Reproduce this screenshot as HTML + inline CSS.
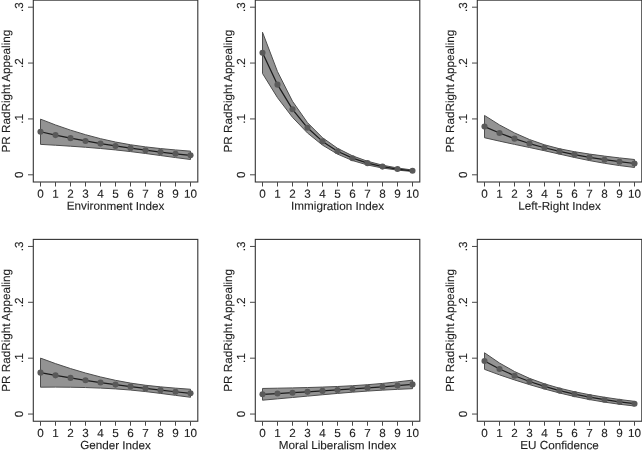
<!DOCTYPE html>
<html><head><meta charset="utf-8"><title>PR RadRight Appealing</title>
<style>
html,body{margin:0;padding:0;background:#fff;}
svg{display:block;}
.t{text-rendering:geometricPrecision;font-family:"Liberation Sans",Arial,sans-serif;font-size:11.7px;fill:#1e1e1e;stroke:#222;stroke-width:0.12px;}
.box{fill:none;stroke:#333;stroke-width:1.1;}
.tk{stroke:#484848;stroke-width:1.0;}
.band{fill:#939393;stroke:#4d4d4d;stroke-width:1.0;stroke-linejoin:miter;}
.ln{fill:none;stroke:#1c1c1c;stroke-width:1.25;stroke-linejoin:round;}
.mk{fill:#595959;}
</style></head>
<body>
<svg width="642" height="453" viewBox="0 0 642 453">
<rect width="642" height="453" fill="#fff"/>
<g>
<polygon class="band" points="40.5,119.14 55.5,124.95 70.5,130.13 85.5,134.7 100.5,138.68 115.5,142.04 130.5,144.76 145.5,146.89 160.5,148.57 175.5,149.95 190.5,151.16 190.5,159.5 175.5,157.57 160.5,155.53 145.5,153.49 130.5,151.58 115.5,149.91 100.5,148.49 85.5,147.26 70.5,146.19 55.5,145.23 40.5,144.36"/>
<polyline class="ln" points="40.5,131.75 55.5,135.09 70.5,138.16 85.5,140.98 100.5,143.58 115.5,145.97 130.5,148.17 145.5,150.19 160.5,152.05 175.5,153.76 190.5,155.33"/>
<circle class="mk" cx="40.5" cy="131.75" r="3.05"/>
<circle class="mk" cx="55.5" cy="135.09" r="3.05"/>
<circle class="mk" cx="70.5" cy="138.16" r="3.05"/>
<circle class="mk" cx="85.5" cy="140.98" r="3.05"/>
<circle class="mk" cx="100.5" cy="143.58" r="3.05"/>
<circle class="mk" cx="115.5" cy="145.97" r="3.05"/>
<circle class="mk" cx="130.5" cy="148.17" r="3.05"/>
<circle class="mk" cx="145.5" cy="150.19" r="3.05"/>
<circle class="mk" cx="160.5" cy="152.05" r="3.05"/>
<circle class="mk" cx="175.5" cy="153.76" r="3.05"/>
<circle class="mk" cx="190.5" cy="155.33" r="3.05"/>
<rect class="box" x="33.3" y="0.15" width="164.5" height="181.85"/>
<line class="tk" x1="28" y1="174.8" x2="33.3" y2="174.8"/>
<text class="t" transform="translate(23,174.8) rotate(-90)" text-anchor="middle">0</text>
<line class="tk" x1="28" y1="118.93" x2="33.3" y2="118.93"/>
<text class="t" transform="translate(23,118.93) rotate(-90)" text-anchor="middle">.1</text>
<line class="tk" x1="28" y1="63.06" x2="33.3" y2="63.06"/>
<text class="t" transform="translate(23,63.06) rotate(-90)" text-anchor="middle">.2</text>
<line class="tk" x1="28" y1="7.19" x2="33.3" y2="7.19"/>
<text class="t" transform="translate(23,7.19) rotate(-90)" text-anchor="middle">.3</text>
<line class="tk" x1="40.5" y1="182" x2="40.5" y2="186.5"/>
<text class="t" x="40.5" y="197.8" transform="rotate(0.05 40.5 197.8)" text-anchor="middle">0</text>
<line class="tk" x1="55.5" y1="182" x2="55.5" y2="186.5"/>
<text class="t" x="55.5" y="197.8" transform="rotate(0.05 55.5 197.8)" text-anchor="middle">1</text>
<line class="tk" x1="70.5" y1="182" x2="70.5" y2="186.5"/>
<text class="t" x="70.5" y="197.8" transform="rotate(0.05 70.5 197.8)" text-anchor="middle">2</text>
<line class="tk" x1="85.5" y1="182" x2="85.5" y2="186.5"/>
<text class="t" x="85.5" y="197.8" transform="rotate(0.05 85.5 197.8)" text-anchor="middle">3</text>
<line class="tk" x1="100.5" y1="182" x2="100.5" y2="186.5"/>
<text class="t" x="100.5" y="197.8" transform="rotate(0.05 100.5 197.8)" text-anchor="middle">4</text>
<line class="tk" x1="115.5" y1="182" x2="115.5" y2="186.5"/>
<text class="t" x="115.5" y="197.8" transform="rotate(0.05 115.5 197.8)" text-anchor="middle">5</text>
<line class="tk" x1="130.5" y1="182" x2="130.5" y2="186.5"/>
<text class="t" x="130.5" y="197.8" transform="rotate(0.05 130.5 197.8)" text-anchor="middle">6</text>
<line class="tk" x1="145.5" y1="182" x2="145.5" y2="186.5"/>
<text class="t" x="145.5" y="197.8" transform="rotate(0.05 145.5 197.8)" text-anchor="middle">7</text>
<line class="tk" x1="160.5" y1="182" x2="160.5" y2="186.5"/>
<text class="t" x="160.5" y="197.8" transform="rotate(0.05 160.5 197.8)" text-anchor="middle">8</text>
<line class="tk" x1="175.5" y1="182" x2="175.5" y2="186.5"/>
<text class="t" x="175.5" y="197.8" transform="rotate(0.05 175.5 197.8)" text-anchor="middle">9</text>
<line class="tk" x1="190.5" y1="182" x2="190.5" y2="186.5"/>
<text class="t" x="190.5" y="197.8" transform="rotate(0.05 190.5 197.8)" text-anchor="middle">10</text>
<text class="t" x="115.55" y="209.9" transform="rotate(0.05 115.55 209.9)" text-anchor="middle">Environment Index</text>
<text class="t" transform="translate(10,91.08) rotate(-90)" text-anchor="middle">PR RadRight Appealing</text>
</g>
<g>
<polygon class="band" points="262.5,32.23 277.5,71.63 292.5,101.28 307.5,122.66 322.5,137.71 337.5,148.3 352.5,155.85 367.5,161.27 382.5,165.18 397.5,168 412.5,170.02 412.5,171.51 397.5,170.11 382.5,168.03 367.5,164.98 352.5,160.52 337.5,154.1 322.5,145.1 307.5,132.99 292.5,117.34 277.5,97.68 262.5,73.48"/>
<polyline class="ln" points="262.5,52.85 277.5,84.66 292.5,109.31 307.5,127.82 322.5,141.4 337.5,151.2 352.5,158.18 367.5,163.13 382.5,166.61 397.5,169.05 412.5,170.77"/>
<circle class="mk" cx="262.5" cy="52.85" r="3.05"/>
<circle class="mk" cx="277.5" cy="84.66" r="3.05"/>
<circle class="mk" cx="292.5" cy="109.31" r="3.05"/>
<circle class="mk" cx="307.5" cy="127.82" r="3.05"/>
<circle class="mk" cx="322.5" cy="141.4" r="3.05"/>
<circle class="mk" cx="337.5" cy="151.2" r="3.05"/>
<circle class="mk" cx="352.5" cy="158.18" r="3.05"/>
<circle class="mk" cx="367.5" cy="163.13" r="3.05"/>
<circle class="mk" cx="382.5" cy="166.61" r="3.05"/>
<circle class="mk" cx="397.5" cy="169.05" r="3.05"/>
<circle class="mk" cx="412.5" cy="170.77" r="3.05"/>
<rect class="box" x="255.3" y="0.15" width="164.5" height="181.85"/>
<line class="tk" x1="250" y1="174.8" x2="255.3" y2="174.8"/>
<text class="t" transform="translate(245,174.8) rotate(-90)" text-anchor="middle">0</text>
<line class="tk" x1="250" y1="118.93" x2="255.3" y2="118.93"/>
<text class="t" transform="translate(245,118.93) rotate(-90)" text-anchor="middle">.1</text>
<line class="tk" x1="250" y1="63.06" x2="255.3" y2="63.06"/>
<text class="t" transform="translate(245,63.06) rotate(-90)" text-anchor="middle">.2</text>
<line class="tk" x1="250" y1="7.19" x2="255.3" y2="7.19"/>
<text class="t" transform="translate(245,7.19) rotate(-90)" text-anchor="middle">.3</text>
<line class="tk" x1="262.5" y1="182" x2="262.5" y2="186.5"/>
<text class="t" x="262.5" y="197.8" transform="rotate(0.05 262.5 197.8)" text-anchor="middle">0</text>
<line class="tk" x1="277.5" y1="182" x2="277.5" y2="186.5"/>
<text class="t" x="277.5" y="197.8" transform="rotate(0.05 277.5 197.8)" text-anchor="middle">1</text>
<line class="tk" x1="292.5" y1="182" x2="292.5" y2="186.5"/>
<text class="t" x="292.5" y="197.8" transform="rotate(0.05 292.5 197.8)" text-anchor="middle">2</text>
<line class="tk" x1="307.5" y1="182" x2="307.5" y2="186.5"/>
<text class="t" x="307.5" y="197.8" transform="rotate(0.05 307.5 197.8)" text-anchor="middle">3</text>
<line class="tk" x1="322.5" y1="182" x2="322.5" y2="186.5"/>
<text class="t" x="322.5" y="197.8" transform="rotate(0.05 322.5 197.8)" text-anchor="middle">4</text>
<line class="tk" x1="337.5" y1="182" x2="337.5" y2="186.5"/>
<text class="t" x="337.5" y="197.8" transform="rotate(0.05 337.5 197.8)" text-anchor="middle">5</text>
<line class="tk" x1="352.5" y1="182" x2="352.5" y2="186.5"/>
<text class="t" x="352.5" y="197.8" transform="rotate(0.05 352.5 197.8)" text-anchor="middle">6</text>
<line class="tk" x1="367.5" y1="182" x2="367.5" y2="186.5"/>
<text class="t" x="367.5" y="197.8" transform="rotate(0.05 367.5 197.8)" text-anchor="middle">7</text>
<line class="tk" x1="382.5" y1="182" x2="382.5" y2="186.5"/>
<text class="t" x="382.5" y="197.8" transform="rotate(0.05 382.5 197.8)" text-anchor="middle">8</text>
<line class="tk" x1="397.5" y1="182" x2="397.5" y2="186.5"/>
<text class="t" x="397.5" y="197.8" transform="rotate(0.05 397.5 197.8)" text-anchor="middle">9</text>
<line class="tk" x1="412.5" y1="182" x2="412.5" y2="186.5"/>
<text class="t" x="412.5" y="197.8" transform="rotate(0.05 412.5 197.8)" text-anchor="middle">10</text>
<text class="t" x="337.55" y="209.9" transform="rotate(0.05 337.55 209.9)" text-anchor="middle">Immigration Index</text>
<text class="t" transform="translate(232,91.08) rotate(-90)" text-anchor="middle">PR RadRight Appealing</text>
</g>
<g>
<polygon class="band" points="484.5,115.45 499.5,124.92 514.5,132.92 529.5,139.54 544.5,144.8 559.5,148.75 574.5,151.71 589.5,154.09 604.5,156.12 619.5,157.91 634.5,159.51 634.5,167.48 619.5,165.56 604.5,163.27 589.5,160.57 574.5,157.48 559.5,154.1 544.5,150.72 529.5,147.51 514.5,144.37 499.5,141.14 484.5,137.72"/>
<polyline class="ln" points="484.5,126.59 499.5,133.03 514.5,138.65 529.5,143.53 544.5,147.76 559.5,151.42 574.5,154.59 589.5,157.33 604.5,159.7 619.5,161.74 634.5,163.5"/>
<circle class="mk" cx="484.5" cy="126.59" r="3.05"/>
<circle class="mk" cx="499.5" cy="133.03" r="3.05"/>
<circle class="mk" cx="514.5" cy="138.65" r="3.05"/>
<circle class="mk" cx="529.5" cy="143.53" r="3.05"/>
<circle class="mk" cx="544.5" cy="147.76" r="3.05"/>
<circle class="mk" cx="559.5" cy="151.42" r="3.05"/>
<circle class="mk" cx="574.5" cy="154.59" r="3.05"/>
<circle class="mk" cx="589.5" cy="157.33" r="3.05"/>
<circle class="mk" cx="604.5" cy="159.7" r="3.05"/>
<circle class="mk" cx="619.5" cy="161.74" r="3.05"/>
<circle class="mk" cx="634.5" cy="163.5" r="3.05"/>
<rect class="box" x="477.3" y="0.15" width="164.5" height="181.85"/>
<line class="tk" x1="472" y1="174.8" x2="477.3" y2="174.8"/>
<text class="t" transform="translate(467,174.8) rotate(-90)" text-anchor="middle">0</text>
<line class="tk" x1="472" y1="118.93" x2="477.3" y2="118.93"/>
<text class="t" transform="translate(467,118.93) rotate(-90)" text-anchor="middle">.1</text>
<line class="tk" x1="472" y1="63.06" x2="477.3" y2="63.06"/>
<text class="t" transform="translate(467,63.06) rotate(-90)" text-anchor="middle">.2</text>
<line class="tk" x1="472" y1="7.19" x2="477.3" y2="7.19"/>
<text class="t" transform="translate(467,7.19) rotate(-90)" text-anchor="middle">.3</text>
<line class="tk" x1="484.5" y1="182" x2="484.5" y2="186.5"/>
<text class="t" x="484.5" y="197.8" transform="rotate(0.05 484.5 197.8)" text-anchor="middle">0</text>
<line class="tk" x1="499.5" y1="182" x2="499.5" y2="186.5"/>
<text class="t" x="499.5" y="197.8" transform="rotate(0.05 499.5 197.8)" text-anchor="middle">1</text>
<line class="tk" x1="514.5" y1="182" x2="514.5" y2="186.5"/>
<text class="t" x="514.5" y="197.8" transform="rotate(0.05 514.5 197.8)" text-anchor="middle">2</text>
<line class="tk" x1="529.5" y1="182" x2="529.5" y2="186.5"/>
<text class="t" x="529.5" y="197.8" transform="rotate(0.05 529.5 197.8)" text-anchor="middle">3</text>
<line class="tk" x1="544.5" y1="182" x2="544.5" y2="186.5"/>
<text class="t" x="544.5" y="197.8" transform="rotate(0.05 544.5 197.8)" text-anchor="middle">4</text>
<line class="tk" x1="559.5" y1="182" x2="559.5" y2="186.5"/>
<text class="t" x="559.5" y="197.8" transform="rotate(0.05 559.5 197.8)" text-anchor="middle">5</text>
<line class="tk" x1="574.5" y1="182" x2="574.5" y2="186.5"/>
<text class="t" x="574.5" y="197.8" transform="rotate(0.05 574.5 197.8)" text-anchor="middle">6</text>
<line class="tk" x1="589.5" y1="182" x2="589.5" y2="186.5"/>
<text class="t" x="589.5" y="197.8" transform="rotate(0.05 589.5 197.8)" text-anchor="middle">7</text>
<line class="tk" x1="604.5" y1="182" x2="604.5" y2="186.5"/>
<text class="t" x="604.5" y="197.8" transform="rotate(0.05 604.5 197.8)" text-anchor="middle">8</text>
<line class="tk" x1="619.5" y1="182" x2="619.5" y2="186.5"/>
<text class="t" x="619.5" y="197.8" transform="rotate(0.05 619.5 197.8)" text-anchor="middle">9</text>
<line class="tk" x1="634.5" y1="182" x2="634.5" y2="186.5"/>
<text class="t" x="634.5" y="197.8" transform="rotate(0.05 634.5 197.8)" text-anchor="middle">10</text>
<text class="t" x="559.55" y="209.9" transform="rotate(0.05 559.55 209.9)" text-anchor="middle">Left-Right Index</text>
<text class="t" transform="translate(454,91.08) rotate(-90)" text-anchor="middle">PR RadRight Appealing</text>
</g>
<g>
<polygon class="band" points="40.5,358.11 55.5,363.61 70.5,368.57 85.5,373.02 100.5,376.95 115.5,380.33 130.5,383.12 145.5,385.26 160.5,386.87 175.5,388.15 190.5,389.25 190.5,397.27 175.5,395.35 160.5,393.4 145.5,391.57 130.5,390.04 115.5,388.89 100.5,388.08 85.5,387.54 70.5,387.22 55.5,387.1 40.5,387.18"/>
<polyline class="ln" points="40.5,372.65 55.5,375.35 70.5,377.89 85.5,380.28 100.5,382.52 115.5,384.61 130.5,386.58 145.5,388.42 160.5,390.14 175.5,391.75 190.5,393.26"/>
<circle class="mk" cx="40.5" cy="372.65" r="3.05"/>
<circle class="mk" cx="55.5" cy="375.35" r="3.05"/>
<circle class="mk" cx="70.5" cy="377.89" r="3.05"/>
<circle class="mk" cx="85.5" cy="380.28" r="3.05"/>
<circle class="mk" cx="100.5" cy="382.52" r="3.05"/>
<circle class="mk" cx="115.5" cy="384.61" r="3.05"/>
<circle class="mk" cx="130.5" cy="386.58" r="3.05"/>
<circle class="mk" cx="145.5" cy="388.42" r="3.05"/>
<circle class="mk" cx="160.5" cy="390.14" r="3.05"/>
<circle class="mk" cx="175.5" cy="391.75" r="3.05"/>
<circle class="mk" cx="190.5" cy="393.26" r="3.05"/>
<rect class="box" x="33.3" y="239.4" width="164.5" height="181.85"/>
<line class="tk" x1="28" y1="414.05" x2="33.3" y2="414.05"/>
<text class="t" transform="translate(23,414.05) rotate(-90)" text-anchor="middle">0</text>
<line class="tk" x1="28" y1="358.18" x2="33.3" y2="358.18"/>
<text class="t" transform="translate(23,358.18) rotate(-90)" text-anchor="middle">.1</text>
<line class="tk" x1="28" y1="302.31" x2="33.3" y2="302.31"/>
<text class="t" transform="translate(23,302.31) rotate(-90)" text-anchor="middle">.2</text>
<line class="tk" x1="28" y1="246.44" x2="33.3" y2="246.44"/>
<text class="t" transform="translate(23,246.44) rotate(-90)" text-anchor="middle">.3</text>
<line class="tk" x1="40.5" y1="421.25" x2="40.5" y2="425.75"/>
<text class="t" x="40.5" y="437.05" transform="rotate(0.05 40.5 437.05)" text-anchor="middle">0</text>
<line class="tk" x1="55.5" y1="421.25" x2="55.5" y2="425.75"/>
<text class="t" x="55.5" y="437.05" transform="rotate(0.05 55.5 437.05)" text-anchor="middle">1</text>
<line class="tk" x1="70.5" y1="421.25" x2="70.5" y2="425.75"/>
<text class="t" x="70.5" y="437.05" transform="rotate(0.05 70.5 437.05)" text-anchor="middle">2</text>
<line class="tk" x1="85.5" y1="421.25" x2="85.5" y2="425.75"/>
<text class="t" x="85.5" y="437.05" transform="rotate(0.05 85.5 437.05)" text-anchor="middle">3</text>
<line class="tk" x1="100.5" y1="421.25" x2="100.5" y2="425.75"/>
<text class="t" x="100.5" y="437.05" transform="rotate(0.05 100.5 437.05)" text-anchor="middle">4</text>
<line class="tk" x1="115.5" y1="421.25" x2="115.5" y2="425.75"/>
<text class="t" x="115.5" y="437.05" transform="rotate(0.05 115.5 437.05)" text-anchor="middle">5</text>
<line class="tk" x1="130.5" y1="421.25" x2="130.5" y2="425.75"/>
<text class="t" x="130.5" y="437.05" transform="rotate(0.05 130.5 437.05)" text-anchor="middle">6</text>
<line class="tk" x1="145.5" y1="421.25" x2="145.5" y2="425.75"/>
<text class="t" x="145.5" y="437.05" transform="rotate(0.05 145.5 437.05)" text-anchor="middle">7</text>
<line class="tk" x1="160.5" y1="421.25" x2="160.5" y2="425.75"/>
<text class="t" x="160.5" y="437.05" transform="rotate(0.05 160.5 437.05)" text-anchor="middle">8</text>
<line class="tk" x1="175.5" y1="421.25" x2="175.5" y2="425.75"/>
<text class="t" x="175.5" y="437.05" transform="rotate(0.05 175.5 437.05)" text-anchor="middle">9</text>
<line class="tk" x1="190.5" y1="421.25" x2="190.5" y2="425.75"/>
<text class="t" x="190.5" y="437.05" transform="rotate(0.05 190.5 437.05)" text-anchor="middle">10</text>
<text class="t" x="115.55" y="449.15" transform="rotate(0.05 115.55 449.15)" text-anchor="middle">Gender Index</text>
<text class="t" transform="translate(10,330.32) rotate(-90)" text-anchor="middle">PR RadRight Appealing</text>
</g>
<g>
<polygon class="band" points="262.5,388.46 277.5,388.2 292.5,387.9 307.5,387.54 322.5,387.08 337.5,386.5 352.5,385.72 367.5,384.71 382.5,383.43 397.5,381.89 412.5,380.14 412.5,388.67 397.5,389.35 382.5,390.14 367.5,391.08 352.5,392.18 337.5,393.41 322.5,394.74 307.5,396.11 292.5,397.49 277.5,398.85 262.5,400.18"/>
<polyline class="ln" points="262.5,394.32 277.5,393.53 292.5,392.7 307.5,391.83 322.5,390.91 337.5,389.95 352.5,388.95 367.5,387.89 382.5,386.79 397.5,385.62 412.5,384.4"/>
<circle class="mk" cx="262.5" cy="394.32" r="3.05"/>
<circle class="mk" cx="277.5" cy="393.53" r="3.05"/>
<circle class="mk" cx="292.5" cy="392.7" r="3.05"/>
<circle class="mk" cx="307.5" cy="391.83" r="3.05"/>
<circle class="mk" cx="322.5" cy="390.91" r="3.05"/>
<circle class="mk" cx="337.5" cy="389.95" r="3.05"/>
<circle class="mk" cx="352.5" cy="388.95" r="3.05"/>
<circle class="mk" cx="367.5" cy="387.89" r="3.05"/>
<circle class="mk" cx="382.5" cy="386.79" r="3.05"/>
<circle class="mk" cx="397.5" cy="385.62" r="3.05"/>
<circle class="mk" cx="412.5" cy="384.4" r="3.05"/>
<rect class="box" x="255.3" y="239.4" width="164.5" height="181.85"/>
<line class="tk" x1="250" y1="414.05" x2="255.3" y2="414.05"/>
<text class="t" transform="translate(245,414.05) rotate(-90)" text-anchor="middle">0</text>
<line class="tk" x1="250" y1="358.18" x2="255.3" y2="358.18"/>
<text class="t" transform="translate(245,358.18) rotate(-90)" text-anchor="middle">.1</text>
<line class="tk" x1="250" y1="302.31" x2="255.3" y2="302.31"/>
<text class="t" transform="translate(245,302.31) rotate(-90)" text-anchor="middle">.2</text>
<line class="tk" x1="250" y1="246.44" x2="255.3" y2="246.44"/>
<text class="t" transform="translate(245,246.44) rotate(-90)" text-anchor="middle">.3</text>
<line class="tk" x1="262.5" y1="421.25" x2="262.5" y2="425.75"/>
<text class="t" x="262.5" y="437.05" transform="rotate(0.05 262.5 437.05)" text-anchor="middle">0</text>
<line class="tk" x1="277.5" y1="421.25" x2="277.5" y2="425.75"/>
<text class="t" x="277.5" y="437.05" transform="rotate(0.05 277.5 437.05)" text-anchor="middle">1</text>
<line class="tk" x1="292.5" y1="421.25" x2="292.5" y2="425.75"/>
<text class="t" x="292.5" y="437.05" transform="rotate(0.05 292.5 437.05)" text-anchor="middle">2</text>
<line class="tk" x1="307.5" y1="421.25" x2="307.5" y2="425.75"/>
<text class="t" x="307.5" y="437.05" transform="rotate(0.05 307.5 437.05)" text-anchor="middle">3</text>
<line class="tk" x1="322.5" y1="421.25" x2="322.5" y2="425.75"/>
<text class="t" x="322.5" y="437.05" transform="rotate(0.05 322.5 437.05)" text-anchor="middle">4</text>
<line class="tk" x1="337.5" y1="421.25" x2="337.5" y2="425.75"/>
<text class="t" x="337.5" y="437.05" transform="rotate(0.05 337.5 437.05)" text-anchor="middle">5</text>
<line class="tk" x1="352.5" y1="421.25" x2="352.5" y2="425.75"/>
<text class="t" x="352.5" y="437.05" transform="rotate(0.05 352.5 437.05)" text-anchor="middle">6</text>
<line class="tk" x1="367.5" y1="421.25" x2="367.5" y2="425.75"/>
<text class="t" x="367.5" y="437.05" transform="rotate(0.05 367.5 437.05)" text-anchor="middle">7</text>
<line class="tk" x1="382.5" y1="421.25" x2="382.5" y2="425.75"/>
<text class="t" x="382.5" y="437.05" transform="rotate(0.05 382.5 437.05)" text-anchor="middle">8</text>
<line class="tk" x1="397.5" y1="421.25" x2="397.5" y2="425.75"/>
<text class="t" x="397.5" y="437.05" transform="rotate(0.05 397.5 437.05)" text-anchor="middle">9</text>
<line class="tk" x1="412.5" y1="421.25" x2="412.5" y2="425.75"/>
<text class="t" x="412.5" y="437.05" transform="rotate(0.05 412.5 437.05)" text-anchor="middle">10</text>
<text class="t" x="337.55" y="449.15" transform="rotate(0.05 337.55 449.15)" text-anchor="middle">Moral Liberalism Index</text>
<text class="t" transform="translate(232,330.32) rotate(-90)" text-anchor="middle">PR RadRight Appealing</text>
</g>
<g>
<polygon class="band" points="484.5,352.77 499.5,363.04 514.5,371.5 529.5,378.36 544.5,383.84 559.5,388.2 574.5,391.75 589.5,394.73 604.5,397.27 619.5,399.47 634.5,401.37 634.5,406.01 619.5,404.25 604.5,402.12 589.5,399.57 574.5,396.52 559.5,392.98 544.5,388.98 529.5,384.61 514.5,379.92 499.5,374.86 484.5,369.34"/>
<polyline class="ln" points="484.5,361.06 499.5,368.95 514.5,375.71 529.5,381.49 544.5,386.41 559.5,390.59 574.5,394.14 589.5,397.15 604.5,399.7 619.5,401.86 634.5,403.69"/>
<circle class="mk" cx="484.5" cy="361.06" r="3.05"/>
<circle class="mk" cx="499.5" cy="368.95" r="3.05"/>
<circle class="mk" cx="514.5" cy="375.71" r="3.05"/>
<circle class="mk" cx="529.5" cy="381.49" r="3.05"/>
<circle class="mk" cx="544.5" cy="386.41" r="3.05"/>
<circle class="mk" cx="559.5" cy="390.59" r="3.05"/>
<circle class="mk" cx="574.5" cy="394.14" r="3.05"/>
<circle class="mk" cx="589.5" cy="397.15" r="3.05"/>
<circle class="mk" cx="604.5" cy="399.7" r="3.05"/>
<circle class="mk" cx="619.5" cy="401.86" r="3.05"/>
<circle class="mk" cx="634.5" cy="403.69" r="3.05"/>
<rect class="box" x="477.3" y="239.4" width="164.5" height="181.85"/>
<line class="tk" x1="472" y1="414.05" x2="477.3" y2="414.05"/>
<text class="t" transform="translate(467,414.05) rotate(-90)" text-anchor="middle">0</text>
<line class="tk" x1="472" y1="358.18" x2="477.3" y2="358.18"/>
<text class="t" transform="translate(467,358.18) rotate(-90)" text-anchor="middle">.1</text>
<line class="tk" x1="472" y1="302.31" x2="477.3" y2="302.31"/>
<text class="t" transform="translate(467,302.31) rotate(-90)" text-anchor="middle">.2</text>
<line class="tk" x1="472" y1="246.44" x2="477.3" y2="246.44"/>
<text class="t" transform="translate(467,246.44) rotate(-90)" text-anchor="middle">.3</text>
<line class="tk" x1="484.5" y1="421.25" x2="484.5" y2="425.75"/>
<text class="t" x="484.5" y="437.05" transform="rotate(0.05 484.5 437.05)" text-anchor="middle">0</text>
<line class="tk" x1="499.5" y1="421.25" x2="499.5" y2="425.75"/>
<text class="t" x="499.5" y="437.05" transform="rotate(0.05 499.5 437.05)" text-anchor="middle">1</text>
<line class="tk" x1="514.5" y1="421.25" x2="514.5" y2="425.75"/>
<text class="t" x="514.5" y="437.05" transform="rotate(0.05 514.5 437.05)" text-anchor="middle">2</text>
<line class="tk" x1="529.5" y1="421.25" x2="529.5" y2="425.75"/>
<text class="t" x="529.5" y="437.05" transform="rotate(0.05 529.5 437.05)" text-anchor="middle">3</text>
<line class="tk" x1="544.5" y1="421.25" x2="544.5" y2="425.75"/>
<text class="t" x="544.5" y="437.05" transform="rotate(0.05 544.5 437.05)" text-anchor="middle">4</text>
<line class="tk" x1="559.5" y1="421.25" x2="559.5" y2="425.75"/>
<text class="t" x="559.5" y="437.05" transform="rotate(0.05 559.5 437.05)" text-anchor="middle">5</text>
<line class="tk" x1="574.5" y1="421.25" x2="574.5" y2="425.75"/>
<text class="t" x="574.5" y="437.05" transform="rotate(0.05 574.5 437.05)" text-anchor="middle">6</text>
<line class="tk" x1="589.5" y1="421.25" x2="589.5" y2="425.75"/>
<text class="t" x="589.5" y="437.05" transform="rotate(0.05 589.5 437.05)" text-anchor="middle">7</text>
<line class="tk" x1="604.5" y1="421.25" x2="604.5" y2="425.75"/>
<text class="t" x="604.5" y="437.05" transform="rotate(0.05 604.5 437.05)" text-anchor="middle">8</text>
<line class="tk" x1="619.5" y1="421.25" x2="619.5" y2="425.75"/>
<text class="t" x="619.5" y="437.05" transform="rotate(0.05 619.5 437.05)" text-anchor="middle">9</text>
<line class="tk" x1="634.5" y1="421.25" x2="634.5" y2="425.75"/>
<text class="t" x="634.5" y="437.05" transform="rotate(0.05 634.5 437.05)" text-anchor="middle">10</text>
<text class="t" x="559.55" y="449.15" transform="rotate(0.05 559.55 449.15)" text-anchor="middle">EU Confidence</text>
<text class="t" transform="translate(454,330.32) rotate(-90)" text-anchor="middle">PR RadRight Appealing</text>
</g>
</svg>
</body></html>
